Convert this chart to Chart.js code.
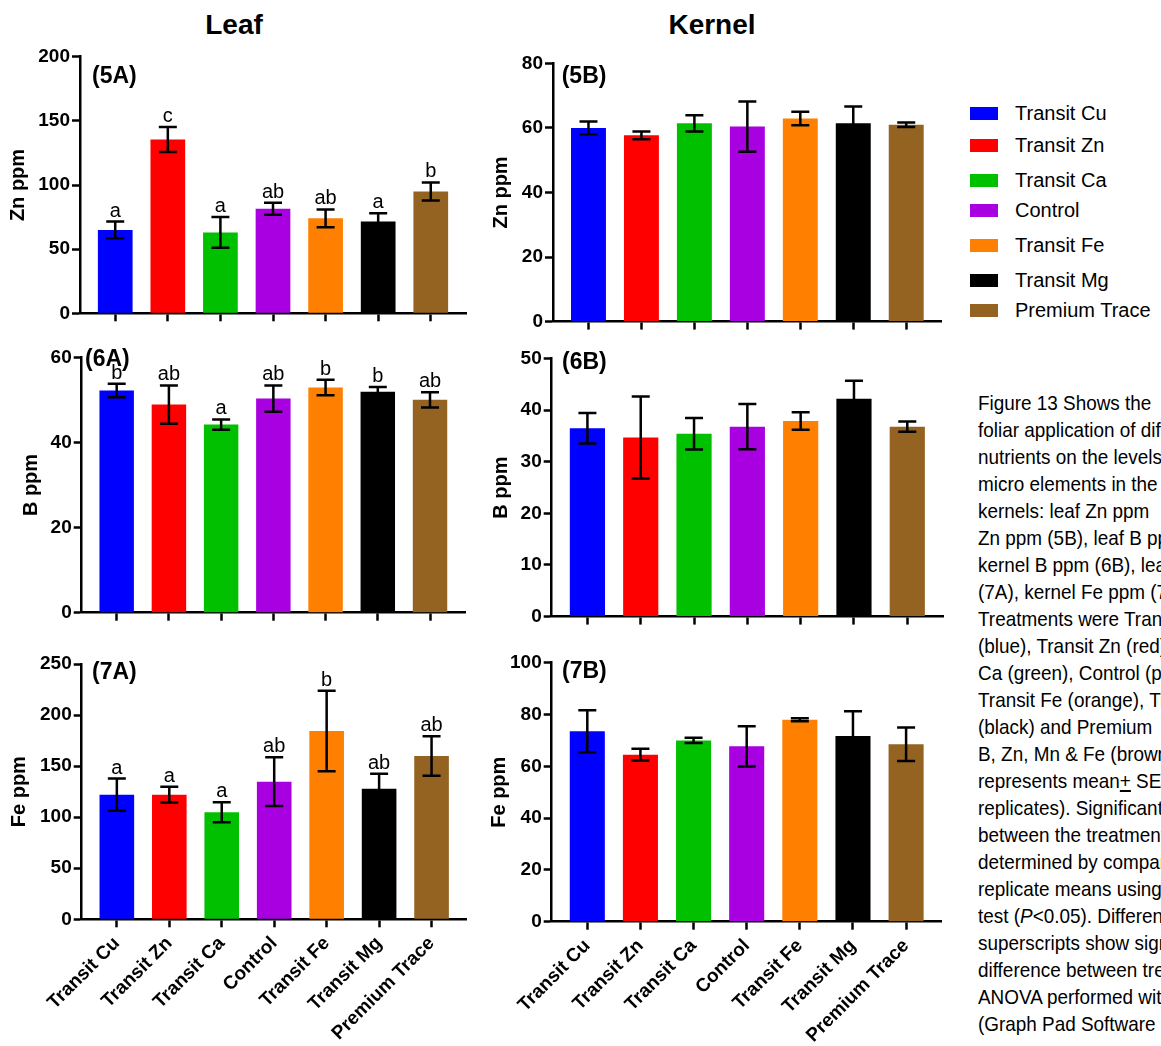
<!DOCTYPE html>
<html>
<head>
<meta charset="utf-8">
<script src="https://cdn.jsdelivr.net/npm/chart.js@4.4.1/dist/chart.umd.min.js"></script>
<style>
  html, body { margin: 0; padding: 0; background: #fff; }
  body { width: 1161px; height: 1046px; overflow: hidden; position: relative;
         font-family: "Liberation Sans", Arial, sans-serif; color: #000; }
  .panel { position: absolute; }
  .coltitle { position: absolute; top: 9px; font-weight: bold; font-size: 28px; line-height: 32px;
              transform: translateX(-50%); white-space: nowrap; }
  .legend-row { position: absolute; left: 970px; height: 26px; display: flex; align-items: center; }
  .swatch { width: 28px; height: 13px; margin-right: 17px; }
  .legend-row span { font-size: 20px; white-space: nowrap; }
  #caption { position: absolute; left: 978px; top: 389px; font-size: 21px; line-height: 27px;
             white-space: pre; transform: scaleX(0.9); transform-origin: 0 0; }
</style>
</head>
<body>
<div class="coltitle" style="left:234px">Leaf</div>
<div class="coltitle" style="left:712px">Kernel</div>
<div id="legend"></div>
<div id="caption"></div>

<script>
// Treatments and their bar colours
const treatments = ['Transit Cu', 'Transit Zn', 'Transit Ca', 'Control', 'Transit Fe', 'Transit Mg', 'Premium Trace'];
const barColors = ['#0000FF', '#FF0000', '#00C000', '#A800E0', '#FF8000', '#000000', '#946322'];

// Leaf Zn (5A)
const leafZn = [65, 135.5, 63, 81.5, 74, 71.5, 95];
const leafZnSE = [6.5, 9.7, 12, 4.6, 7, 6.5, 7];
const leafZnLetters = ['a', 'c', 'a', 'ab', 'ab', 'a', 'b'];
// Kernel Zn (5B)
const kernelZn = [60, 57.7, 61.4, 60.4, 62.9, 61.4, 61];
const kernelZnSE = [2, 1.2, 2.5, 7.8, 2.1, 5.2, 0.7];
// Leaf B (6A)
const leafB = [52.2, 48.9, 44.2, 50.3, 52.9, 51.9, 50];
const leafBSE = [1.6, 4.5, 1.2, 3.1, 1.8, 1.1, 1.8];
const leafBLetters = ['b', 'ab', 'a', 'ab', 'b', 'b', 'ab'];
// Kernel B (6B)
const kernelB = [36.5, 34.7, 35.4, 36.8, 37.9, 42.2, 36.8];
const kernelBSE = [2.95, 7.95, 3.05, 4.4, 1.7, 3.5, 1.0];
// Leaf Fe (7A)
const leafFe = [122, 122, 104.8, 134.8, 184.4, 127.9, 159.9];
const leafFeSE = [15.8, 7.7, 9.7, 23.8, 39.5, 14.7, 19.4];
const leafFeLetters = ['a', 'a', 'a', 'ab', 'b', 'ab', 'ab'];
// Kernel Fe (7B)
const kernelFe = [73.5, 64.5, 70, 67.7, 78, 71.7, 68.5];
const kernelFeSE = [8.1, 2.3, 1.0, 7.8, 0.6, 9.6, 6.5];

// Y axis ranges and titles
const yMaxes = { '5A': 200, '5B': 80, '6A': 60, '6B': 50, '7A': 250, '7B': 100 };
const ySteps = { '5A': 50, '5B': 20, '6A': 20, '6B': 10, '7A': 50, '7B': 20 };
const yTitles = { '5A': 'Zn ppm', '5B': 'Zn ppm', '6A': 'B ppm', '6B': 'B ppm', '7A': 'Fe ppm', '7B': 'Fe ppm' };

const FONT = '"Liberation Sans", Arial, sans-serif';

// Panel placement (box on the page, axis sizes and paddings)
const panels = [
  { id: '5A', values: leafZn, errors: leafZnSE, letters: leafZnLetters, labels: false,
    box: [0, 40, 480, 295], padTop: 16.7, padRight: 14, yW: 80, xH: 21.7, titlePad: 6, tag: [12, 20] },
  { id: '5B', values: kernelZn, errors: kernelZnSE, letters: null, labels: false,
    box: [480, 40, 480, 295], padTop: 23.3, padRight: 18.3, yW: 73, xH: 13, titlePad: 9.7, tag: [8.7, 13.4] },
  { id: '6A', values: leafB, errors: leafBSE, letters: leafBLetters, labels: false,
    box: [0, 335, 480, 295], padTop: 22.3, padRight: 15, yW: 81.7, xH: 17.3, titlePad: 19, tag: [3.3, 2.7] },
  { id: '6B', values: kernelB, errors: kernelBSE, letters: null, labels: false,
    box: [480, 335, 480, 295], padTop: 23.5, padRight: 17, yW: 71.7, xH: 12.7, titlePad: 9, tag: [10.3, 4.5] },
  { id: '7A', values: leafFe, errors: leafFeSE, letters: leafFeLetters, labels: true,
    box: [0, 630, 480, 416], padTop: 34, padRight: 13.3, yW: 81.7, xH: 126.7, titlePad: 7.5, tag: [10.3, 9] },
  { id: '7B', values: kernelFe, errors: kernelFeSE, letters: null, labels: true,
    box: [480, 630, 480, 416], padTop: 32.7, padRight: 18.3, yW: 71.7, xH: 124.3, titlePad: 7.5, tag: [10.3, 9] }
];

// Error bars (mean ± SE), significance letters and the panel tag
function errorBarPlugin(p) {
  return {
    id: 'errorBars',
    afterDatasetsDraw(chart) {
      const ctx = chart.ctx;
      const y = chart.scales.y;
      const meta = chart.getDatasetMeta(0);
      ctx.save();
      ctx.strokeStyle = '#000';
      ctx.fillStyle = '#000';
      ctx.lineWidth = 2.5;
      ctx.font = '20px ' + FONT;
      ctx.textAlign = 'center';
      ctx.textBaseline = 'alphabetic';
      meta.data.forEach((bar, i) => {
        const v = p.values[i], e = p.errors[i];
        const yt = y.getPixelForValue(v + e);
        const yb = y.getPixelForValue(v - e);
        ctx.beginPath();
        ctx.moveTo(bar.x, yt); ctx.lineTo(bar.x, yb);
        ctx.moveTo(bar.x - 9, yt); ctx.lineTo(bar.x + 9, yt);
        ctx.moveTo(bar.x - 9, yb); ctx.lineTo(bar.x + 9, yb);
        ctx.stroke();
        if (p.letters) ctx.fillText(p.letters[i], bar.x, yt - 5);
      });
      ctx.font = 'bold 23px ' + FONT;
      ctx.textAlign = 'left';
      ctx.textBaseline = 'middle';
      ctx.fillText('(' + p.id + ')', chart.chartArea.left + p.tag[0], chart.chartArea.top + p.tag[1]);
      ctx.restore();
    }
  };
}

function makePanel(p) {
  const div = document.createElement('div');
  div.className = 'panel';
  div.style.left = p.box[0] + 'px';
  div.style.top = p.box[1] + 'px';
  const cv = document.createElement('canvas');
  cv.width = p.box[2];
  cv.height = p.box[3];
  cv.style.width = p.box[2] + 'px';
  cv.style.height = p.box[3] + 'px';
  div.appendChild(cv);
  document.body.appendChild(div);

  const axisGrid = { display: true, offset: false, drawOnChartArea: false, drawTicks: true, tickLength: 8,
                     tickWidth: 2.5, tickColor: '#000', color: '#000' };
  const axisBorder = { display: true, color: '#000', width: 2.5 };

  new Chart(cv, {
    type: 'bar',
    data: {
      datasets: [{
        data: p.values.map((v, i) => ({ x: i, y: v })),
        backgroundColor: barColors,
        borderWidth: 0,
        barPercentage: 0.66,
        categoryPercentage: 1
      }]
    },
    options: {
      responsive: false,
      animation: false,
      devicePixelRatio: 1,
      layout: { padding: { left: 0, top: p.padTop, right: p.padRight, bottom: 0 } },
      plugins: { legend: { display: false }, tooltip: { enabled: false } },
      scales: {
        x: {
          type: 'linear', min: -0.67, max: 6.67, offset: false,
          border: axisBorder, grid: axisGrid,
          ticks: {
            display: p.labels, stepSize: 1, includeBounds: false, autoSkip: false,
            minRotation: 45, maxRotation: 45, padding: 5, color: '#000',
            font: { family: FONT, size: 19, weight: 'bold' },
            callback: v => (Number.isInteger(v) && treatments[v]) ? treatments[v] : ''
          },
          afterFit: s => { s.height = p.xH; }
        },
        y: {
          min: 0, max: yMaxes[p.id],
          border: axisBorder, grid: axisGrid,
          ticks: { stepSize: ySteps[p.id], padding: 2, color: '#000',
                   font: { family: FONT, size: 19, weight: 'bold' } },
          title: { display: true, text: yTitles[p.id], color: '#000',
                   font: { family: FONT, size: 20, weight: 'bold' },
                   padding: { top: p.titlePad, bottom: 0 } },
          afterFit: s => { s.width = p.yW; }
        }
      }
    },
    plugins: [errorBarPlugin(p)]
  });
}

panels.forEach(makePanel);

// Legend
const legendRows = [113, 145, 180, 210, 245, 280, 310];
const legend = document.getElementById('legend');
treatments.forEach((t, i) => {
  const row = document.createElement('div');
  row.className = 'legend-row';
  row.style.top = (legendRows[i] - 13) + 'px';
  row.innerHTML = '<div class="swatch" style="background:' + barColors[i] + '"></div><span>' + t + '</span>';
  legend.appendChild(row);
});

// Figure caption
const captionLines = [
  'Figure 13 Shows the',
  'foliar application of different',
  'nutrients on the levels of',
  'micro elements in the',
  'kernels: leaf Zn ppm',
  'Zn ppm (5B), leaf B ppm',
  'kernel B ppm (6B), leaf',
  '(7A), kernel Fe ppm (7B)',
  'Treatments were Transit',
  '(blue), Transit Zn (red)',
  'Ca (green), Control (purple)',
  'Transit Fe (orange), Transit',
  '(black) and Premium',
  'B, Zn, Mn &amp; Fe (brown)',
  'represents mean<u>+</u> SE',
  'replicates). Significant',
  'between the treatments',
  'determined by comparing',
  'replicate means using',
  'test (<i>P</i>&lt;0.05). Different',
  'superscripts show significant',
  'difference between treatments',
  'ANOVA performed with',
  '(Graph Pad Software'
];
document.getElementById('caption').innerHTML = captionLines.map(l => '<div>' + l + '</div>').join('');
</script>
</body>
</html>
